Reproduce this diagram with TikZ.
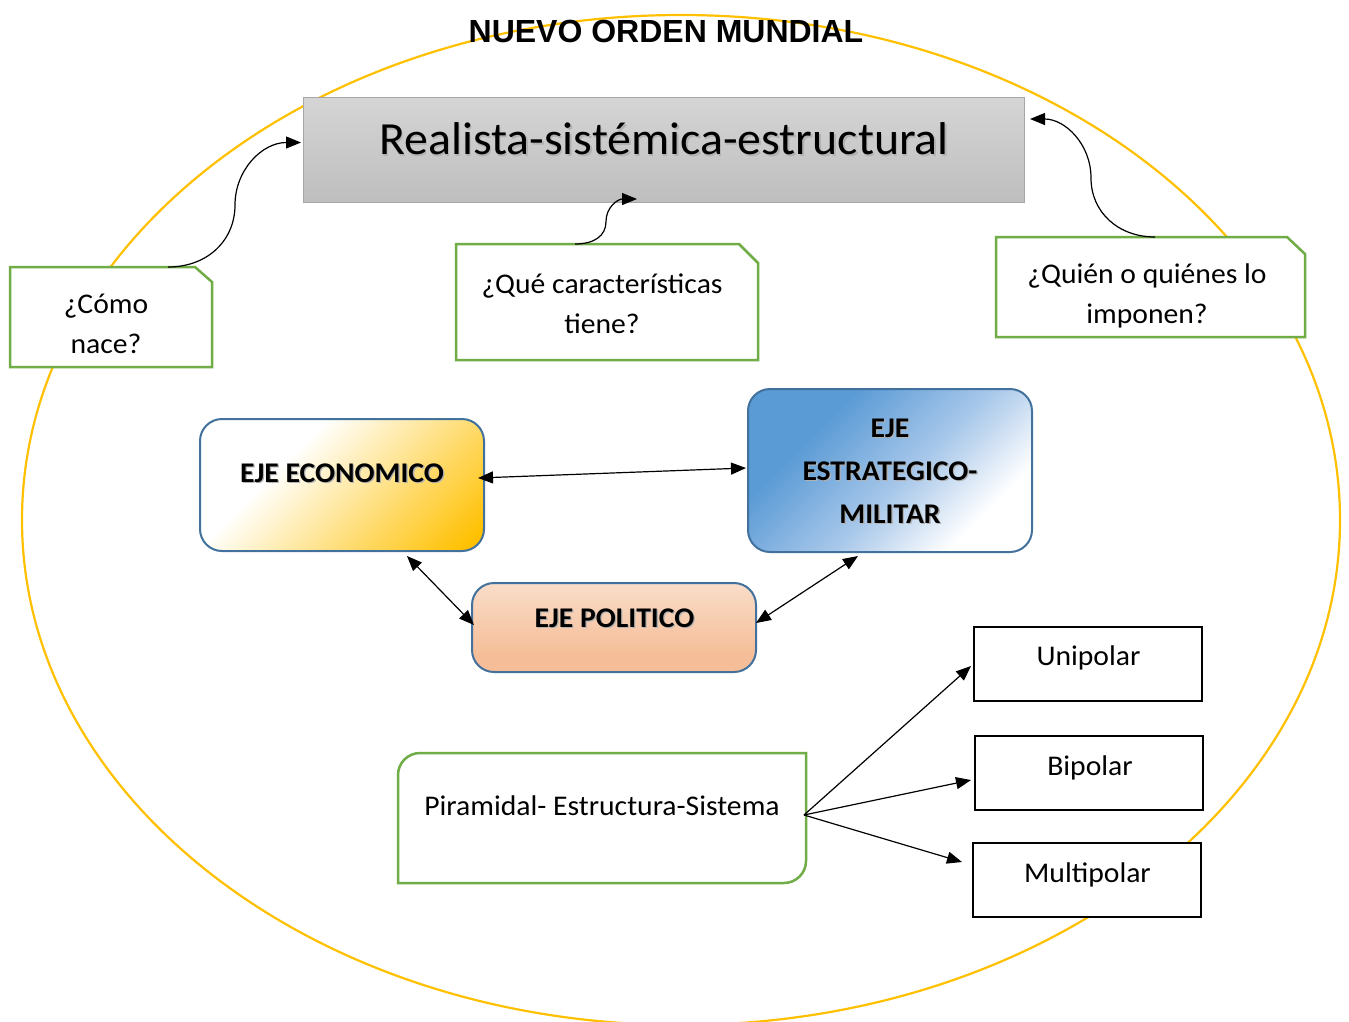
\documentclass[tikz,border=0pt]{standalone}
\usepackage{fontspec}
\setmainfont{Carlito}[FakeStretch=1.04]
\newfontfamily\titlefont{Liberation Sans}
\usetikzlibrary{arrows.meta,calc,shapes.geometric}

\definecolor{gold}{HTML}{FFC000}
\definecolor{cgreen}{HTML}{70AD47}
\definecolor{cblue}{HTML}{41719C}
\definecolor{sblue}{HTML}{5B9BD5}
\definecolor{sbluemid}{HTML}{A9C8EA}
\definecolor{grayT}{HTML}{D5D5D5}
\definecolor{grayB}{HTML}{BEBEBE}
\definecolor{grayL}{HTML}{A6A6A6}
\definecolor{peachT}{HTML}{FCF0E8}
\definecolor{peachB}{HTML}{F5BE98}

\pgfdeclarehorizontalshading{econshade}{100bp}{color(0bp)=(white); color(36bp)=(white); color(82bp)=(gold); color(100bp)=(gold)}
\pgfdeclarehorizontalshading{stratshade}{100bp}{color(0bp)=(sblue); color(32bp)=(sblue); color(54bp)=(sbluemid); color(72bp)=(white); color(100bp)=(white)}
\pgfdeclareverticalshading{polshade}{100bp}{color(0bp)=(peachB); color(35bp)=(peachB); color(100bp)=(peachT)}

\newcommand\shadowed[2][1.3pt]{\leavevmode\rlap{\kern#1\raisebox{-#1}{\textcolor{black!30}{#2}}}#2}

\tikzset{
  boxnode/.style={inner sep=0pt, outer sep=0pt},
  calline/.style={draw=cgreen, line width=2.5pt, fill=white, line join=miter},
  calltext/.style={anchor=base, align=center, font=\fontsize{28.5}{39.5}\selectfont},
  ejebox/.style={boxnode, draw=cblue, line width=2pt, rounded corners=22pt},
  ejetext/.style={anchor=base, align=center, font=\bfseries\fontsize{28.5}{43}\selectfont},
  blackbox/.style={boxnode, draw=black, line width=2.5pt, fill=white},
  plaintext/.style={anchor=base, font=\fontsize{28.5}{34}\selectfont},
  conn/.style={draw, line width=1.2pt, -{Triangle[length=15pt,width=12pt]}},
  conn2/.style={draw, line width=1.2pt, {Triangle[length=15pt,width=12pt]}-{Triangle[length=15pt,width=12pt]}}
}

\begin{document}
\begin{tikzpicture}[x=1pt,y=-1pt]
\useasboundingbox (0,0) rectangle (1349,1021);
\fill[white] (0,0) rectangle (1349,1021);

% outer ellipse
\node[ellipse, draw=gold, line width=2.2pt, minimum width=1318pt, minimum height=1010pt, inner sep=0pt] (frame) at (681,520) {};

% title
\node[anchor=base, font=\titlefont\bfseries\fontsize{32}{36}\selectfont] (title) at (666,42) {NUEVO ORDEN MUNDIAL};

% top gray box
\node[boxnode, draw=grayL, line width=1pt, top color=grayT, bottom color=grayB, minimum width=721pt, minimum height=105pt] (real) at (663.5,149.5) {};
\node[anchor=base, font=\fontsize{46}{50}\selectfont] (realt) at (664,154.5) {\shadowed[1.5pt]{Realista-sistémica-estructural}};

% callouts
\node[boxnode, minimum width=202pt, minimum height=100pt] (c1) at (111,317) {};
\draw[calline] (c1.north west) -- ([xshift=-17pt]c1.north east) -- ([yshift=-15pt]c1.north east) -- (c1.south east) -- (c1.south west) -- cycle;
\node[calltext] (c1t) at (106,353) {¿Cómo\\nace?};

\node[boxnode, minimum width=302pt, minimum height=116pt] (c2) at (607,302) {};
\draw[calline] (c2.north west) -- ([xshift=-19pt]c2.north east) -- ([yshift=-19pt]c2.north east) -- (c2.south east) -- (c2.south west) -- cycle;
\node[calltext] (c2t) at (602,333) {¿Qué características\\tiene?};

\node[boxnode, minimum width=309pt, minimum height=100pt] (c3) at (1150.5,287) {};
\draw[calline] (c3.north west) -- ([xshift=-18pt]c3.north east) -- ([yshift=-17pt]c3.north east) -- (c3.south east) -- (c3.south west) -- cycle;
\node[calltext] (c3t) at (1147,323) {¿Quién o quiénes lo\\imponen?};

% curved connectors
\draw[conn, shorten >=2pt] ([xshift=57pt]c1.north) .. controls (208,267) and (235,240) .. (235,205) .. controls (235,170) and (262,142.5) .. ([yshift=7pt]real.west);
\draw[conn] ([xshift=-32pt]c2.north) .. controls (594,244) and (606,236) .. (606,221.5) .. controls (606,207) and (618,199) .. ([xshift=-26.5pt,yshift=3pt]real.south);
\draw[conn] ([xshift=4.5pt]c3.north) .. controls (1118,237) and (1091,212) .. (1091,178) .. controls (1091,144) and (1065,119) .. ([xshift=6pt,yshift=30.5pt]real.east);

% axes
\node[ejebox, shading=econshade, shading angle=-45, minimum width=284pt, minimum height=132pt] (econ) at (342,485) {};
\node[ejetext] (econt) at (342,482) {\shadowed{EJE ECONOMICO}};

\node[ejebox, shading=stratshade, shading angle=-45, minimum width=284pt, minimum height=163pt] (strat) at (890,470.5) {};
\node[ejetext] (stratt) at (890,523) {\shadowed{EJE}\\\shadowed{ESTRATEGICO-}\\\shadowed{MILITAR}};

\node[ejebox, shading=polshade, minimum width=284pt, minimum height=89pt] (pol) at (614,627.5) {};
\node[ejetext] (polt) at (614.5,627) {\shadowed{EJE POLITICO}};

\draw[conn2] ([xshift=-6pt,yshift=7pt]econ.east) -- ([xshift=-2pt,yshift=2.5pt]strat.west);
\draw[conn2] ([xshift=65pt,yshift=-5pt]econ.south) -- ([xshift=2pt,yshift=2.5pt]pol.west);
\draw[conn2] ([xshift=-32pt,yshift=-4pt]strat.south) -- ([yshift=4.5pt]pol.east);

% piramidal
\node[boxnode, minimum width=408pt, minimum height=130pt] (pir) at (602,818) {};
\draw[draw=cgreen, line width=2.5pt, fill=white] (pir.south west) -- ([yshift=-22pt]pir.north west) arc[start angle=180, end angle=90, radius=22pt] -- (pir.north east) -- ([yshift=22pt]pir.south east) arc[start angle=0, end angle=-90, radius=22pt] -- cycle;
\node[plaintext] (pirt) at (602,815) {Piramidal- Estructura-Sistema};

% poles
\node[blackbox, minimum width=228pt, minimum height=74pt] (uni) at (1088,664) {};
\node[plaintext] (unit) at (1088.5,665) {Unipolar};
\node[blackbox, minimum width=228pt, minimum height=74pt] (bi) at (1089,773) {};
\node[plaintext] (bit) at (1090,775) {Bipolar};
\node[blackbox, minimum width=228pt, minimum height=74pt] (multi) at (1087,880) {};
\node[plaintext] (multit) at (1087.5,882) {Multipolar};

\draw[conn] ([xshift=-2pt,yshift=3pt]pir.east) -- ([xshift=-3pt,yshift=-2pt]uni.west);
\draw[conn] ([xshift=-2pt,yshift=3pt]pir.east) -- ([xshift=-4pt,yshift=-7pt]bi.west);
\draw[conn] ([xshift=-2pt,yshift=3pt]pir.east) -- ([xshift=-11pt,yshift=18pt]multi.west);
\end{tikzpicture}
\end{document}
